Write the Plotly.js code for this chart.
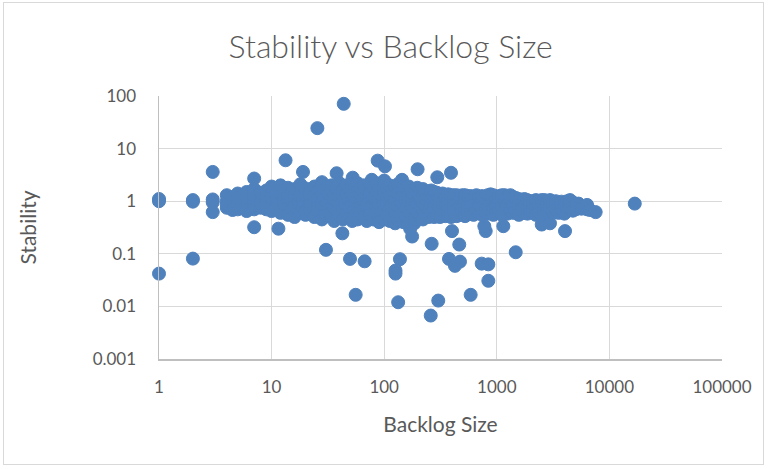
<!DOCTYPE html>
<html>
<head>
<meta charset="utf-8">
<script src="https://cdn.plot.ly/plotly-3.0.1.min.js"></script>
<style>
  html, body { margin: 0; padding: 0; background: #ffffff; }
  #wrap { position: relative; width: 769px; height: 469px; }
  #frame { position: absolute; left: 3px; top: 2px; width: 761px; height: 463px; border: 1px solid #D9D9D9; box-sizing: border-box; pointer-events: none; }
  #chart { position: absolute; left: 0; top: 0; width: 769px; height: 469px; }
</style>
</head>
<body>
<div id="wrap">
  <div id="chart"></div>
  <div id="frame"></div>
</div>
<script>
// Isolated points (Backlog Size, Stability)
const outlierSize = [1, 1, 1, 2, 2, 2, 3, 3, 3, 3,
  7, 7, 11.5, 13.3, 19, 25.5, 43.7, 30.4, 42.5, 49.7, 67, 55.8, 37.8, 87.5, 101.6, 198, 296, 392,
  144, 52.5, 77.5, 100, 28, 16800, 7550, 4035, 2505, 2967, 1472, 1143, 797, 775, 400, 464, 264, 177,
  170, 185, 376, 471, 425, 734, 841, 841, 138, 126, 126, 133, 259, 302, 586];
const outlierStability = [1.1, 1.0, 0.042, 1.05, 0.98, 0.081, 3.6, 1.08, 0.95, 0.62,
  2.7, 0.32, 0.3, 6.0, 3.6, 24.5, 71, 0.119, 0.245, 0.080, 0.072, 0.0166, 3.4, 5.9, 4.6, 4.05, 2.85, 3.47,
  2.55, 2.8, 2.55, 2.47, 2.3, 0.9, 0.62, 0.27, 0.36, 0.38, 0.107, 0.335, 0.27, 0.335, 0.27, 0.15, 0.155, 0.213,
  0.3, 0.38, 0.080, 0.071, 0.059, 0.065, 0.063, 0.0307, 0.079, 0.048, 0.042, 0.012, 0.0067, 0.0129, 0.0166];

// Dense band: backlog sizes and the stability values observed at each
const bandSize = [4, 4.5, 5, 6, 7, 8, 9, 10, 11, 12, 13, 14, 15, 16, 17, 18, 19, 20, 22, 24, 26, 28, 30, 32, 34, 36, 38, 40,
  43, 46, 49, 52, 55, 58, 62, 66, 70, 75, 80, 85, 90, 95, 100, 106, 112, 118, 125, 132, 140, 148, 157, 166, 176, 186,
  197, 209, 221, 234, 248, 262, 278, 294, 312, 330, 350, 370, 392, 415, 440, 466, 494, 523, 554, 587, 622, 659, 698,
  740, 784, 830, 880, 932, 988, 1047, 1110, 1175, 1245, 1320, 1400, 1480, 1570, 1665, 1760, 1870, 1980, 2100, 2225,
  2360, 2500, 2650, 2800, 2970, 3150, 3340, 3540, 3750, 3980, 4220, 4470, 4740, 5020, 5320, 5640, 5980, 6340, 6720];
const bandStability = [
  [1.0, 0.75, 1.3, 0.85], [0.9, 1.2, 0.68], [1.0, 0.7, 1.4, 0.85, 1.15], [0.95, 0.8, 1.25, 1.5, 0.65],
  [1.05, 0.85, 0.7, 1.3, 1.7], [1.0, 0.75, 1.2, 0.9, 1.45], [0.95, 1.1, 0.7, 1.6, 0.8], [1.0, 0.85, 1.3, 0.65, 1.9, 1.15],
  [0.9, 1.2, 0.75, 1.5], [1.05, 0.8, 1.35, 0.6, 2.0], [0.95, 1.15, 0.7, 1.6, 0.85], [1.0, 0.75, 1.25, 1.8, 0.55],
  [0.9, 1.1, 1.45, 0.68], [1.0, 0.8, 1.3, 0.5, 1.7], [0.95, 1.2, 0.7, 1.55], [1.05, 0.85, 0.6, 1.35, 2.1],
  [0.9, 1.15, 0.75], [1.0, 0.8, 1.3, 0.55, 1.75, 0.65], [0.95, 1.2, 0.7, 1.5, 0.85], [1.0, 0.75, 1.3, 0.5, 1.9],
  [0.9, 1.15, 0.65, 1.6, 0.8], [1.05, 0.85, 1.35, 0.45, 2.0], [0.95, 0.7, 1.2, 1.7, 0.55], [1.0, 0.8, 1.4, 0.6, 0.9],
  [0.9, 1.1, 0.5, 1.6, 2.0], [1.0, 0.75, 1.3, 0.42], [0.95, 1.15, 0.65, 1.8], [1.05, 0.85, 0.55, 1.45, 2.2],
  [0.9, 1.2, 0.7, 0.45, 1.6], [1.0, 0.8, 1.35, 0.6, 2.0], [0.95, 1.1, 0.5, 1.7, 0.75], [1.0, 0.85, 0.42, 1.4, 2.1],
  [0.9, 1.2, 0.65, 1.9, 0.55], [1.05, 0.75, 1.5, 0.45, 2.2], [0.95, 0.85, 1.3, 0.6, 1.8], [1.0, 0.7, 1.15, 0.5, 2.0],
  [0.9, 1.25, 0.42, 1.6, 0.8], [1.05, 0.65, 1.4, 0.55, 2.1], [0.95, 0.85, 1.2, 0.45, 1.9], [1.0, 0.75, 1.5, 0.6, 2.2],
  [0.9, 1.1, 0.5, 1.7, 0.4], [1.05, 0.8, 1.3, 0.65, 2.0], [0.95, 0.7, 1.45, 0.45, 2.1], [1.0, 0.85, 1.2, 0.55, 1.8],
  [0.9, 0.75, 1.35, 0.42, 2.0], [1.05, 0.65, 1.6, 0.5, 0.85], [0.95, 1.1, 0.6, 1.9, 0.38], [1.0, 0.8, 1.4, 0.45, 2.1],
  [0.9, 0.7, 1.25, 0.55, 1.7], [1.05, 0.85, 1.5, 0.4, 1.9], [0.95, 0.75, 1.15, 0.5, 1.8], [1.0, 0.65, 1.35, 0.42, 1.9],
  [0.9, 0.8, 1.6, 0.55, 1.1], [1.05, 0.7, 1.3, 0.45, 1.7], [0.95, 0.85, 1.45, 0.6, 1.8], [1.0, 0.75, 1.2, 0.5, 1.6],
  [0.9, 0.65, 1.35, 0.45, 1.7], [1.05, 0.8, 1.5, 0.55, 1.1], [0.95, 0.7, 1.25, 0.5, 1.55], [1.0, 0.85, 1.4, 0.6, 1.6],
  [0.9, 0.75, 1.15, 0.5, 1.5], [1.05, 0.65, 1.3, 0.55, 1.45], [0.95, 0.8, 1.35, 0.5, 1.1], [1.0, 0.7, 1.2, 0.6, 1.4],
  [0.9, 0.85, 1.3, 0.52, 1.15], [1.05, 0.75, 1.35, 0.55], [0.95, 0.65, 1.25, 0.5, 1.3], [1.0, 0.8, 1.3, 0.6],
  [0.9, 0.7, 1.15, 0.52, 1.3], [1.05, 0.85, 1.25, 0.55], [0.95, 0.75, 1.2, 0.62, 1.3], [1.0, 0.65, 1.3, 0.52],
  [0.9, 0.8, 1.1, 0.58, 1.25], [1.05, 0.7, 1.25, 0.6], [0.95, 0.85, 1.2, 0.55], [1.0, 0.75, 1.3, 0.65],
  [0.9, 0.8, 1.1, 0.6, 1.2], [1.05, 0.7, 1.25, 0.55], [0.95, 0.85, 1.15, 0.62], [1.0, 0.75, 1.3, 0.58],
  [0.9, 0.8, 1.2, 0.65, 1.35], [1.05, 0.7, 1.3, 0.55], [0.95, 0.85, 1.1, 0.6], [1.0, 0.75, 1.25, 0.65],
  [0.9, 0.8, 1.15, 0.55, 1.3], [1.05, 0.7, 1.3, 0.62], [0.95, 0.85, 1.2, 0.58], [1.0, 0.75, 1.1, 0.65, 1.3],
  [0.9, 0.8, 1.2, 0.6], [1.05, 0.7, 1.15, 0.62], [0.95, 0.85, 1.1, 0.55], [1.0, 0.75, 1.05, 0.65],
  [0.9, 0.8, 1.1, 0.6], [1.0, 0.72, 1.05, 0.58], [0.95, 0.85, 1.0, 0.62], [1.0, 0.75, 0.9, 0.6],
  [0.9, 0.8, 1.05, 0.55], [1.0, 0.7, 0.85, 0.62], [0.95, 0.8, 1.05], [0.9, 0.75, 1.05, 0.6],
  [1.0, 0.82, 0.65], [0.9, 0.72, 1.05], [0.95, 0.8, 0.62], [0.88, 0.7, 1.0],
  [0.92, 0.78, 0.6], [0.85, 0.7, 0.98], [0.9, 0.75, 0.58], [0.82, 0.68, 1.0],
  [0.88, 0.72, 1.05], [0.8, 0.95, 0.66], [0.85, 0.7], [0.9, 0.76],
  [0.82, 0.72], [0.78], [0.7, 0.85], [0.68]
];

const xTickVals = [1, 10, 100, 1000, 10000, 100000];
const xTickText = ['1', '10', '100', '1000', '10000', '100000'];
const yTickVals = [0.001, 0.01, 0.1, 1, 10, 100];
const yTickText = ['0.001', '0.01', '0.1', '1', '10', '100'];

const xs = outlierSize.slice();
const ys = outlierStability.slice();
bandSize.forEach((s, i) => bandStability[i].forEach(v => { xs.push(s); ys.push(v); }));

const FONT = 'Lato, "Open Sans", sans-serif';
const GREY = '#595959';

Plotly.newPlot('chart', [{
  type: 'scatter',
  mode: 'markers',
  x: xs,
  y: ys,
  marker: { color: '#4F81BD', size: 13, line: { color: '#4F81BD', width: 1 } },
  hoverinfo: 'x+y',
  showlegend: false,
  cliponaxis: false
}], {
  width: 769,
  height: 469,
  margin: { l: 159, r: 47, t: 96, b: 110 },
  paper_bgcolor: '#ffffff',
  plot_bgcolor: '#ffffff',
  font: { family: FONT, color: GREY },
  title: { text: 'Stability vs Backlog Size', x: 0.508, xanchor: 'center', y: 0.9, yanchor: 'middle',
    font: { family: FONT, size: 32, weight: 300, color: GREY } },
  xaxis: {
    type: 'log', range: [0, 5],
    tickvals: xTickVals, ticktext: xTickText,
    showgrid: true, gridcolor: '#D9D9D9', gridwidth: 1.3,
    showline: true, linecolor: '#BFBFBF', linewidth: 1.5,
    zeroline: false, ticks: '', ticklabelstandoff: 12,
    tickfont: { family: FONT, size: 17, color: GREY },
    title: { text: 'Backlog Size', standoff: 21, font: { family: FONT, size: 21, weight: 400, color: GREY } }
  },
  yaxis: {
    type: 'log', range: [-3, 2],
    tickvals: yTickVals, ticktext: yTickText,
    showgrid: true, gridcolor: '#D9D9D9', gridwidth: 1.3,
    showline: true, linecolor: '#BFBFBF', linewidth: 1.5,
    zeroline: false, ticks: '', ticklabelstandoff: 18,
    tickfont: { family: FONT, size: 17, color: GREY },
    title: { text: 'Stability', standoff: 50, font: { family: FONT, size: 21, weight: 400, color: GREY } }
  }
}, { displayModeBar: false, staticPlot: true });
</script>
</body>
</html>
